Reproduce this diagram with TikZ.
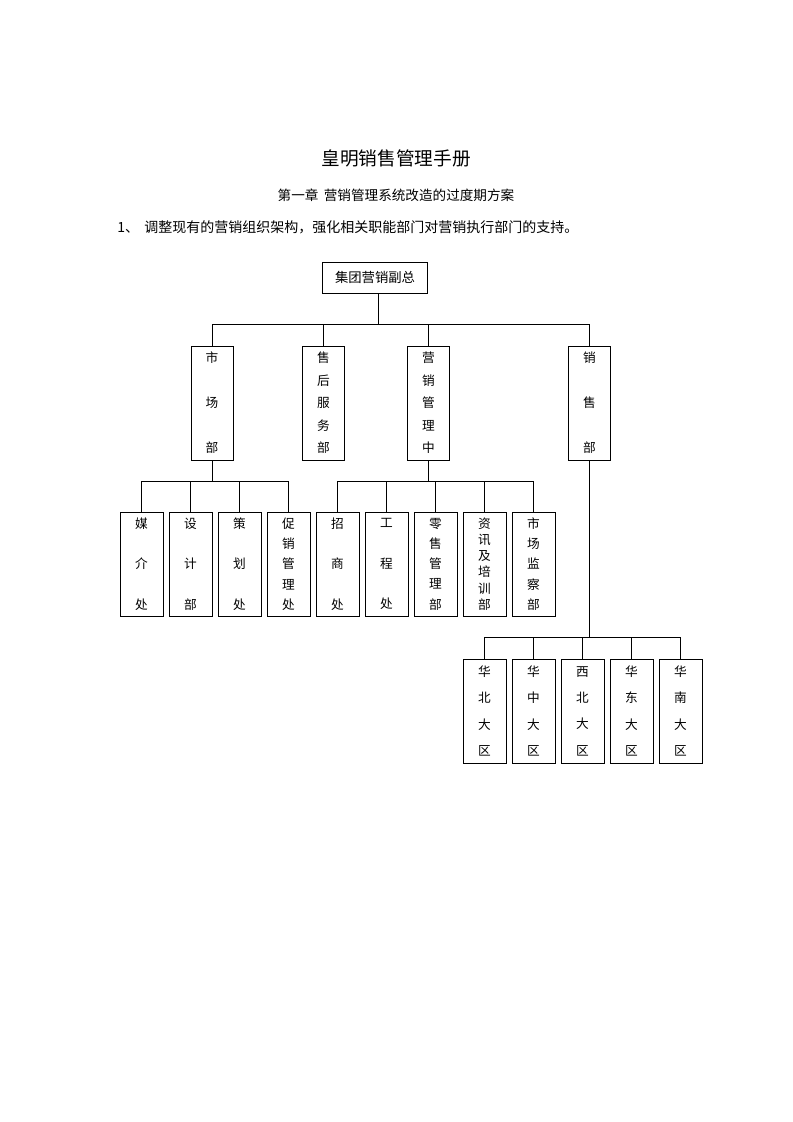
\documentclass[tikz,border=0pt]{standalone}
\usepackage{fontspec}
\newfontfamily\cjk{Noto Sans CJK SC}
\begin{document}
\begin{tikzpicture}[x=0.75pt,y=-0.75pt,
  box/.style={draw, line width=0.75pt, inner sep=0pt, align=center},
  lvtwo/.style={box, minimum width=31.5pt, minimum height=85.5pt},
  lvthree/.style={box, minimum width=32.25pt, minimum height=78pt},
  conn/.style={line width=0.75pt},
  fa/.style={font=\cjk\fontsize{9.5}{33.75}\selectfont},
  fb/.style={font=\cjk\fontsize{9.5}{16.875}\selectfont},
  fc/.style={font=\cjk\fontsize{9.5}{30.4}\selectfont},
  fd/.style={font=\cjk\fontsize{9.5}{15.2}\selectfont},
  fe/.style={font=\cjk\fontsize{9.5}{12.15}\selectfont},
  ff/.style={font=\cjk\fontsize{9.5}{19.7}\selectfont}
]
\useasboundingbox[fill=white] (0,0) rectangle (793,1122);

% texts
\node[font=\cjk\fontsize{14}{16}\selectfont] (title) at (396,158) {皇明销售管理手册};
\node[font=\cjk\fontsize{10.2}{12}\selectfont] (sub) at (396,195) {第一章\hspace{4pt}营销管理系统改造的过度期方案};
\node[font=\cjk\fontsize{10.5}{12}\selectfont, anchor=west, inner sep=0pt] (intro) at (117,227) {1、\hspace{4pt}调整现有的营销组织架构，强化相关职能部门对营销执行部门的支持。};

% top box
\node[box, minimum width=78.75pt, minimum height=23.25pt, font=\cjk\fontsize{10}{12}\selectfont] (top) at (375,277.5) {集团营销副总};

% level 2
\node[lvtwo, fa] (m) at (212,403) {市\\场\\部};
\node[lvtwo, fb] (s) at (323.5,403) {售\\后\\服\\务\\部};
\node[lvtwo, fb] (y) at (428.5,403) {营\\销\\管\\理\\中};
\node[lvtwo, fa] (x) at (589.5,403) {销\\售\\部};

% level 3 row 1
\node[lvthree, fc] (a1) at (141.5,564) {媒\\介\\处};
\node[lvthree, fc] (a2) at (190.5,564) {设\\计\\部};
\node[lvthree, fc] (a3) at (239.5,564) {策\\划\\处};
\node[lvthree, fd] (a4) at (288.5,564) {促\\销\\管\\理\\处};
\node[lvthree, fc] (b1) at (337.5,564) {招\\商\\处};
\node[lvthree, fc] (b2) at (386.5,564) {工\\程\\处};
\node[lvthree, fd] (b3) at (435.5,564) {零\\售\\管\\理\\部};
\node[lvthree, fe] (b4) at (484.5,564) {资\\讯\\及\\培\\训\\部};
\node[lvthree, fd] (b5) at (533.5,564) {市\\场\\监\\察\\部};

% level 3 row 2
\node[lvthree, ff] (c1) at (484.5,711) {华\\北\\大\\区};
\node[lvthree, ff] (c2) at (533.5,711) {华\\中\\大\\区};
\node[lvthree, ff] (c3) at (582.5,711) {西\\北\\大\\区};
\node[lvthree, ff] (c4) at (631.5,711) {华\\东\\大\\区};
\node[lvthree, ff] (c5) at (680.5,711) {华\\南\\大\\区};

% bus coordinates
\coordinate (bus1) at (0,324);
\coordinate (bus2) at (0,481);
\coordinate (bus3) at (0,637);

% connectors level 1 -> 2
\draw[conn] (top.south) ++(2.4pt,0) coordinate (t0) -- (t0 |- bus1);
\draw[conn] (m.north |- bus1) -- (x.north |- bus1);
\foreach \n in {m,s,y,x} \draw[conn] (\n.north) -- (\n.north |- bus1);

% 市场部 -> row 1 left
\draw[conn] (m.south) -- (m.south |- bus2);
\draw[conn] (a1.north |- bus2) -- (a4.north |- bus2);
\foreach \n in {a1,a2,a3,a4} \draw[conn] (\n.north) -- (\n.north |- bus2);

% 营销管理中 -> row 1 right
\draw[conn] (y.south) -- (y.south |- bus2);
\draw[conn] (b1.north |- bus2) -- (b5.north |- bus2);
\foreach \n in {b1,b2,b3,b4,b5} \draw[conn] (\n.north) -- (\n.north |- bus2);

% 销售部 -> row 2
\draw[conn] (x.south) -- (x.south |- bus3);
\draw[conn] (c1.north |- bus3) -- (c5.north |- bus3);
\foreach \n in {c1,c2,c3,c4,c5} \draw[conn] (\n.north) -- (\n.north |- bus3);
\end{tikzpicture}
\end{document}
